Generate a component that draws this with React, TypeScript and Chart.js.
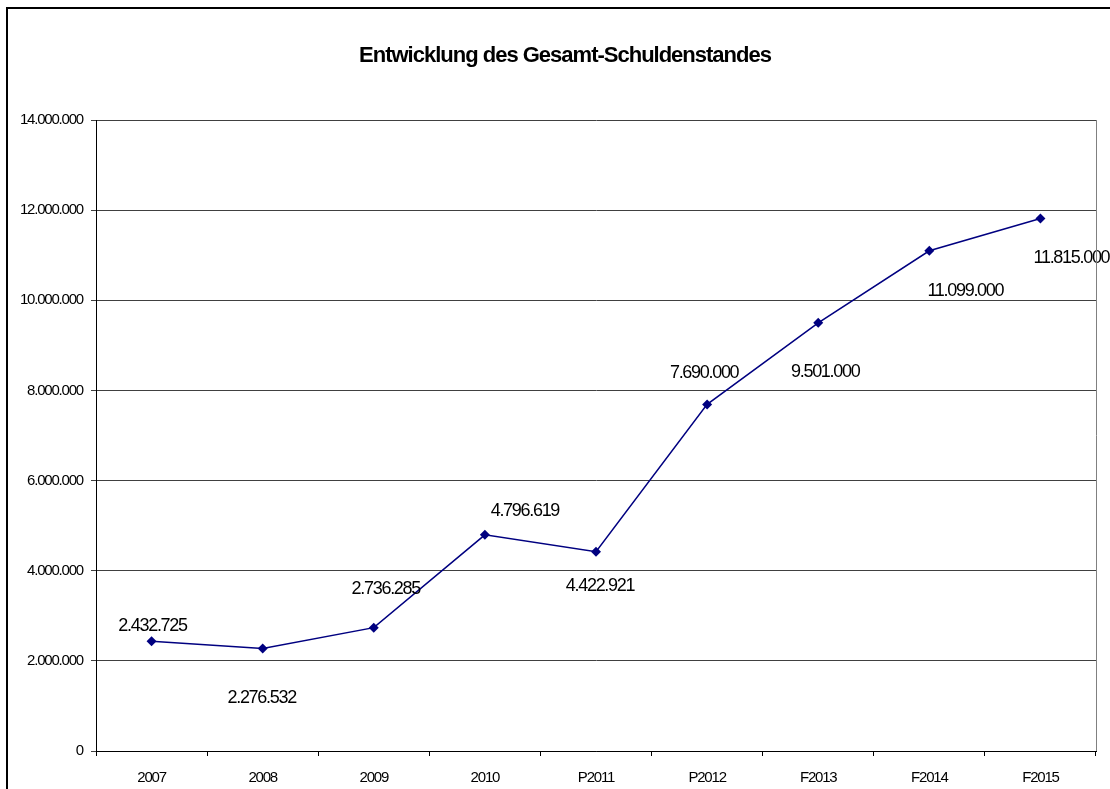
import React, { useEffect, useRef } from "react";
import { Chart, registerables } from "chart.js";

Chart.register(...registerables);

const categories = ["2007", "2008", "2009", "2010", "P2011", "P2012", "F2013", "F2014", "F2015"];
const debtValues = [2432725, 2276532, 2736285, 4796619, 4422921, 7690000, 9501000, 11099000, 11815000];
const yTickValues = [0, 2000000, 4000000, 6000000, 8000000, 10000000, 12000000, 14000000];
const titleText = "Entwicklung des Gesamt-Schuldenstandes";

// pixel offsets of the value labels relative to their points (layout only)
const labelOffsets = [
  [1, -15], [-1, 50], [12, -39], [40, -24], [4, 34], [-3, -31], [7, 49], [36, 40], [31, 40],
];

const FONT = "'Liberation Sans', Arial, sans-serif";

function fmt(v: number): string {
  return String(Math.round(v)).replace(/\B(?=(\d{3})+(?!\d))/g, ".");
}

const spacingPlugin = {
  id: "spacing",
  beforeUpdate(chart: any) { chart.ctx.letterSpacing = "-1.2px"; },
  beforeLayout(chart: any) { chart.ctx.letterSpacing = "-1.2px"; },
  beforeDraw(chart: any) {
    const ctx = chart.ctx;
    ctx.letterSpacing = "-1.2px";
    ctx.save();
    ctx.fillStyle = "#ffffff";
    ctx.fillRect(0, 0, chart.width, chart.height);
    ctx.restore();
  },
};

const framePlugin = {
  id: "frame",
  afterDraw(chart: any) {
    const ctx = chart.ctx;
    const a = chart.chartArea;
    ctx.save();
    ctx.strokeStyle = "#000000";
    ctx.lineWidth = 2;
    ctx.strokeRect(7, 8, chart.width + 20, chart.height + 20);
    ctx.strokeStyle = "#808080";
    ctx.lineWidth = 1;
    ctx.beginPath();
    ctx.moveTo(Math.round(a.right) + 0.5, a.top);
    ctx.lineTo(Math.round(a.right) + 0.5, a.bottom);
    ctx.stroke();
    // chart title, centred over the chart like the original
    ctx.letterSpacing = "-1px";
    ctx.font = `bold 22px ${FONT}`;
    ctx.fillStyle = "#000000";
    ctx.textAlign = "center";
    ctx.textBaseline = "middle";
    ctx.fillText(titleText, 565, 56);
    ctx.restore();
  },
};

const labelPlugin = {
  id: "valueLabels",
  afterDatasetsDraw(chart: any) {
    const ctx = chart.ctx;
    const meta = chart.getDatasetMeta(0);
    ctx.save();
    ctx.letterSpacing = "-1.3px";
    ctx.font = `18px ${FONT}`;
    ctx.fillStyle = "#000000";
    ctx.textAlign = "center";
    ctx.textBaseline = "middle";
    meta.data.forEach((pt: any, i: number) => {
      const off = labelOffsets[i] || [0, -20];
      ctx.fillText(fmt(debtValues[i]), pt.x + off[0], pt.y + off[1]);
    });
    ctx.restore();
  },
};

export default function App() {
  const ref = useRef<HTMLCanvasElement | null>(null);
  useEffect(() => {
    if (!ref.current) return;
    const chart = new Chart(ref.current, {
      type: "line",
      data: {
        labels: categories,
        datasets: [
          {
            label: "Gesamt-Schuldenstand",
            data: debtValues,
            borderColor: "#000080",
            backgroundColor: "#000080",
            borderWidth: 1.5,
            pointStyle: "rectRot",
            pointRadius: 5,
            pointBorderWidth: 0,
            pointBackgroundColor: "#000080",
            tension: 0,
          },
        ],
      },
      options: {
        responsive: false,
        animation: false,
        devicePixelRatio: 1,
        layout: { padding: { left: 0, right: 14, top: 120, bottom: 0 } },
        plugins: {
          legend: { display: false },
          tooltip: { enabled: false },
          title: { display: false },
        },
        scales: {
          x: {
            offset: true,
            grid: {
              offset: true,
              drawOnChartArea: false,
              drawTicks: true,
              tickLength: 5,
              color: "#000000",
            },
            border: { display: true, color: "#000000", width: 1 },
            ticks: {
              color: "#000000",
              font: { family: FONT, size: 15 },
              padding: 13,
              maxRotation: 0,
              autoSkip: false,
            },
            afterFit(scale: any) { scale.height = 38; },
          },
          y: {
            min: 0,
            max: 14000000,
            afterBuildTicks(scale: any) {
              scale.ticks = yTickValues.map((v) => ({ value: v }));
            },
            grid: {
              color: "#404040",
              lineWidth: 1,
              drawTicks: true,
              tickLength: 5,
            },
            border: { display: true, color: "#000000", width: 1 },
            ticks: {
              color: "#000000",
              font: { family: FONT, size: 15 },
              padding: 8,
              callback: (v: any) => fmt(Number(v)),
            },
            afterFit(scale: any) { scale.width = 96; },
          },
        },
      },
      plugins: [spacingPlugin, framePlugin, labelPlugin],
    } as any);
    return () => chart.destroy();
  }, []);
  return (
    <div style={{ position: "absolute", left: 0, top: 0, width: 1110, height: 789, background: "#fff" }}>
      <canvas ref={ref} width={1110} height={789} style={{ display: "block" }} />
    </div>
  );
}
